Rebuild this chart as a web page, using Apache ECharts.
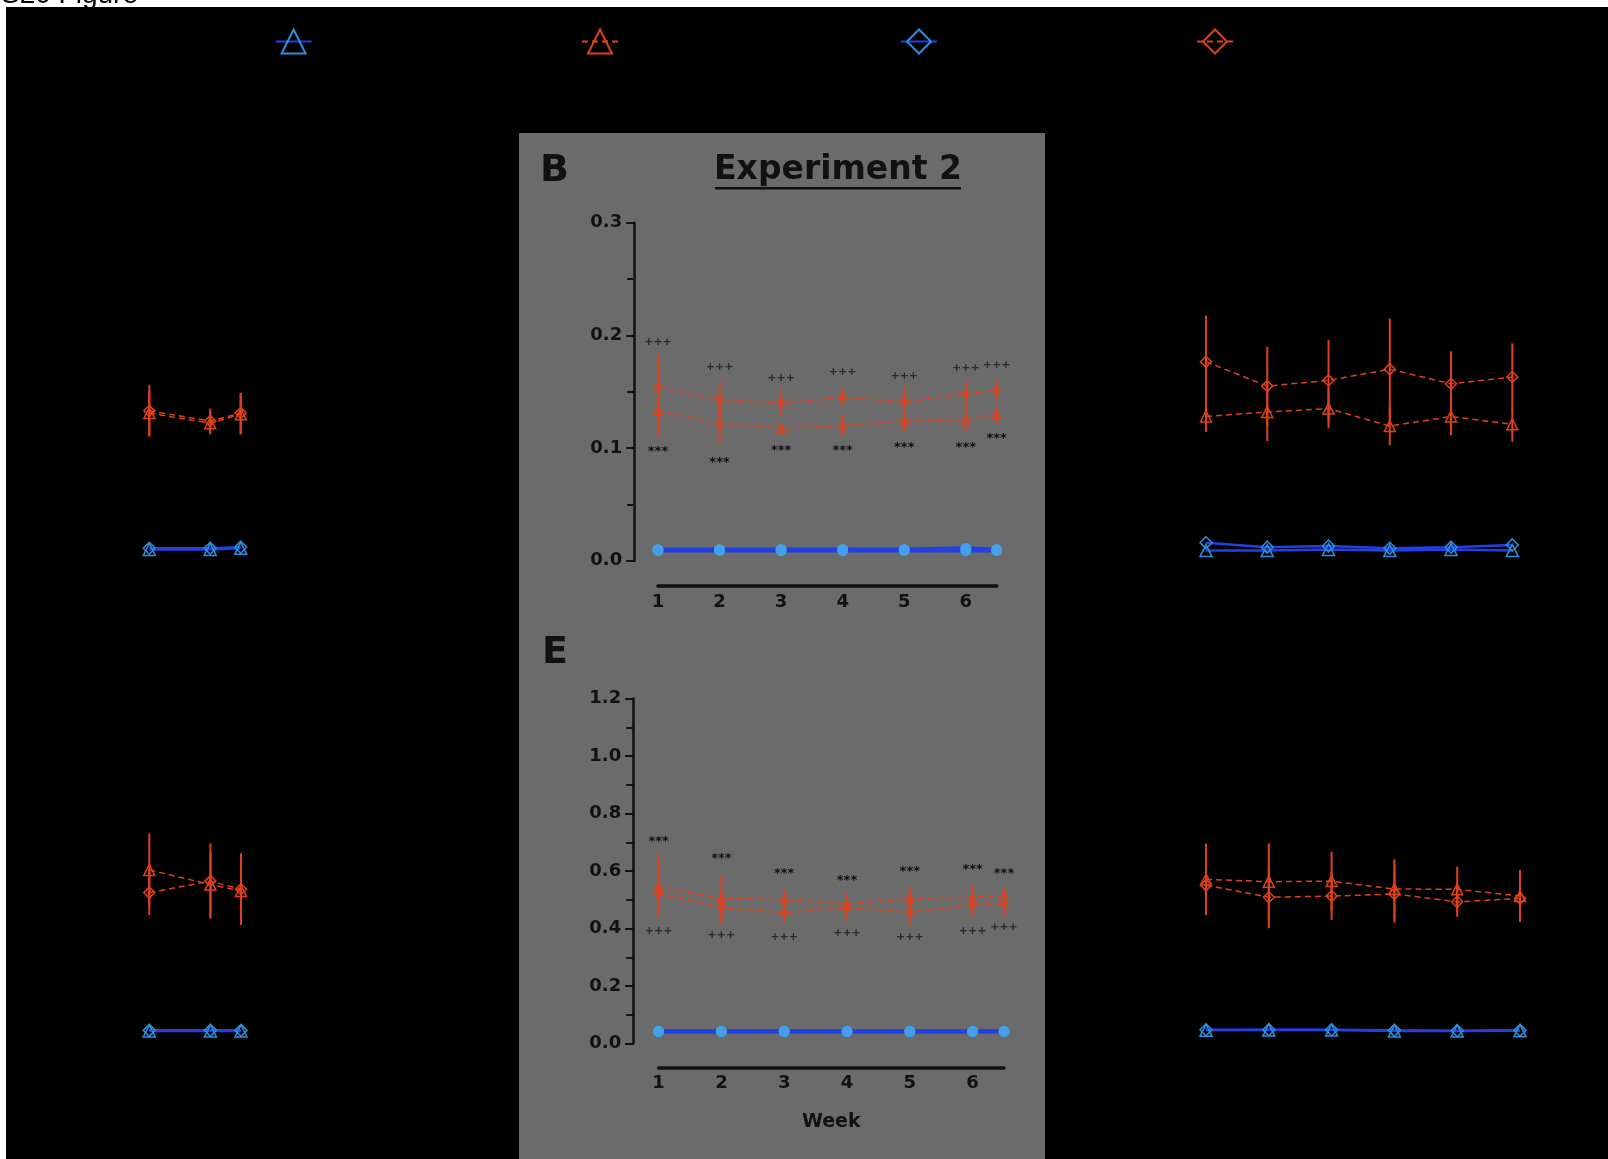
<!DOCTYPE html>
<html><head><meta charset="utf-8">
<script src="https://cdn.jsdelivr.net/npm/echarts@6/dist/echarts.min.js"></script>
<style>html,body{margin:0;padding:0;background:#fff;overflow:hidden}#c{width:1608px;height:1159px}</style>
</head><body><div id="c"></div>
<script>
// ---------- DATA ----------
const groupNames = ['Group 1', 'Group 2', 'Group 3', 'Group 4']; // blue tri, red tri, blue diamond, red diamond

// Panel A (hidden axes, top left)
const A_weeks = [1, 2, 2.5];
const A_triBlue = [0.010, 0.010, 0.011];
const A_triRed = [0.131, 0.122, 0.130];
const A_triRedErr = [0.020, 0.010, 0.018];
const A_diaBlue = [0.011, 0.011, 0.012];
const A_diaRed = [0.133, 0.124, 0.131];
const A_diaRedErr = [0.023, 0.011, 0.018];

// Panel B (Experiment 2, top)
const B_weeks = [1, 2, 3, 4, 5, 6, 6.5];
const B_triBlue = [0.009, 0.009, 0.009, 0.009, 0.009, 0.009, 0.009];
const B_diaBlue = [0.010, 0.010, 0.010, 0.010, 0.010, 0.011, 0.010];
const B_diaRed = [0.154, 0.143, 0.140, 0.145, 0.141, 0.148, 0.151];
const B_diaRedErr = [0.029, 0.016, 0.011, 0.008, 0.013, 0.011, 0.009];
const B_triRed = [0.133, 0.122, 0.1175, 0.120, 0.124, 0.125, 0.130];
const B_triRedErr = [0.023, 0.018, 0.005, 0.009, 0.010, 0.011, 0.008];
const B_plusY = [0.194, 0.1716, 0.162, 0.167, 0.164, 0.171, 0.1737];
const B_starY = [0.0997, 0.0894, 0.100, 0.100, 0.1027, 0.1027, 0.1107];
const B_yTicks = [0, 0.3, 0.1];

// Panel C (hidden axes, top right)
const C_weeks = [1, 2, 3, 4, 5, 6];
const C_triBlue = [0.009, 0.009, 0.010, 0.009, 0.010, 0.009];
const C_diaBlue = [0.016, 0.012, 0.013, 0.011, 0.012, 0.014];
const C_diaRed = [0.1766, 0.155, 0.160, 0.170, 0.157, 0.163];
const C_diaRedErr = [0.041, 0.035, 0.036, 0.045, 0.029, 0.030];
const C_triRed = [0.128, 0.132, 0.135, 0.1195, 0.128, 0.121];
const C_triRedErr = [0.0135, 0.026, 0.0175, 0.017, 0.0165, 0.0154];

// Panel D (hidden axes, bottom left)
const D_weeks = [1, 2, 2.5];
const D_triBlue = [0.044, 0.044, 0.044];
const D_diaBlue = [0.046, 0.046, 0.046];
const D_triRed = [0.604, 0.553, 0.531];
const D_triRedErr = [0.127, 0.112, 0.101];
const D_diaRed = [0.525, 0.565, 0.537];
const D_diaRedErr = [0.078, 0.131, 0.125];

// Panel E (Experiment 2, bottom)
const E_weeks = [1, 2, 3, 4, 5, 6, 6.5];
const E_triBlue = [0.042, 0.042, 0.042, 0.042, 0.042, 0.042, 0.042];
const E_diaBlue = [0.043, 0.043, 0.043, 0.043, 0.043, 0.043, 0.043];
const E_triRed = [0.545, 0.505, 0.501, 0.485, 0.505, 0.509, 0.515];
const E_triRedErr = [0.108, 0.081, 0.033, 0.036, 0.039, 0.042, 0.030];
const E_diaRed = [0.521, 0.473, 0.455, 0.473, 0.457, 0.481, 0.485];
const E_diaRedErr = [0.084, 0.054, 0.030, 0.042, 0.044, 0.038, 0.042];
const E_starY = [0.7125, 0.655, 0.601, 0.577, 0.608, 0.616, 0.601];
const E_plusY = [0.392, 0.377, 0.371, 0.3855, 0.371, 0.392, 0.4035];
const E_yTicks = [0, 1.2, 0.2];

// Panel F (hidden axes, bottom right)
const F_weeks = [1, 2, 3, 4, 5, 6];
const F_triBlue = [0.046, 0.047, 0.047, 0.044, 0.044, 0.045];
const F_diaBlue = [0.048, 0.048, 0.048, 0.046, 0.045, 0.046];
const F_triRed = [0.571, 0.563, 0.565, 0.5375, 0.5365, 0.513];
const F_triRedErr = [0.125, 0.133, 0.102, 0.1035, 0.0785, 0.0906];
const F_diaRed = [0.551, 0.509, 0.513, 0.520, 0.493, 0.5045];
const F_diaRedErr = [0.0865, 0.108, 0.083, 0.100, 0.052, 0.0725];

const weekLabels = ['1', '2', '3', '4', '5', '6'];

// ---------- STYLE ----------
const RED = '#e0401c';
const BLUE_LINE = '#2141e6';
const BLUE_MARK = '#2f8fdc';
const CBLUE_MARK = '#45a0ec';
const INK = '#111';
const FONT = '"DejaVu Sans", sans-serif';

// grids: 0 A, 1 B, 2 C, 3 D, 4 E, 5 F
const grids = [
  {left: 149.3, top: 222.7, width: 91.4, height: 338},
  {left: 658, top: 222.7, width: 338.6, height: 338},
  {left: 1206, top: 222.7, width: 306.3, height: 338},
  {left: 149.3, top: 698.5, width: 91.7, height: 345.1},
  {left: 658.6, top: 698.5, width: 345.4, height: 345.1},
  {left: 1206, top: 698.5, width: 314, height: 345.1}
];
const xRanges = [[1, 2.5], [1, 6.5], [1, 6], [1, 2.5], [1, 6.5], [1, 6]];
const yRanges = [[0, 0.3], [0, 0.3], [0, 0.3], [0, 1.2], [0, 1.2], [0, 1.2]];

const xAxes = grids.map((g, i) => {
  const vis = (i === 1 || i === 4);
  return {
    type: 'value', gridIndex: i, min: xRanges[i][0], max: xRanges[i][1], interval: 1,
    show: vis, offset: i === 1 ? 25.3 : 24, position: 'bottom',
    axisLine: {show: true, onZero: false, lineStyle: {color: INK, width: 3.5}},
    axisTick: {show: false}, splitLine: {show: false},
    axisLabel: {show: true, margin: 7, color: INK, fontFamily: FONT, fontWeight: 'bold', fontSize: 18,
      formatter: v => (Number.isInteger(v) && weekLabels.indexOf(String(v)) >= 0) ? String(v) : ''},
    name: i === 4 ? 'Week' : '', nameLocation: 'middle', nameGap: 45,
    nameTextStyle: {color: INK, fontFamily: FONT, fontWeight: 'bold', fontSize: 19}
  };
});
const yAxes = grids.map((g, i) => {
  const vis = (i === 1 || i === 4);
  const t = i < 3 ? B_yTicks : E_yTicks;
  return {
    type: 'value', gridIndex: i, min: yRanges[i][0], max: yRanges[i][1], interval: t[2],
    show: vis, offset: i === 1 ? 23.8 : 25.4,
    axisLine: {show: true, onZero: false, lineStyle: {color: INK, width: 2.5}},
    axisTick: {show: true, length: 8, lineStyle: {color: INK, width: 2}},
    minorTick: {show: true, splitNumber: 2, length: 7, lineStyle: {color: INK, width: 2}},
    splitLine: {show: false},
    axisLabel: {margin: 12, color: INK, fontFamily: FONT, fontWeight: 'bold', fontSize: 18,
      formatter: v => v.toFixed(1)}
  };
});

function lineS(name, gi, weeks, vals, symbol, kind) {
  const center = (gi === 1 || gi === 4);
  const isRed = kind === 'red';
  const s = {
    name, type: 'line', xAxisIndex: gi, yAxisIndex: gi,
    data: weeks.map((w, k) => [w, vals[k]]), symbol, z: 4, silent: true
  };
  if (isRed) {
    s.symbolSize = center ? 8 : 11;
    s.lineStyle = {color: RED, width: 1.5, type: [6, 4]};
    s.itemStyle = {color: 'rgba(0,0,0,0)', borderColor: RED, borderWidth: 1.5};
  } else if (center) {
    s.symbol = 'circle';
    s.symbolSize = 11;
    s.lineStyle = {color: BLUE_LINE, width: 4};
    s.itemStyle = {color: CBLUE_MARK, borderWidth: 0};
  } else {
    s.symbolSize = 12;
    s.lineStyle = {color: BLUE_LINE, width: 2.5};
    s.itemStyle = {color: 'rgba(0,0,0,0)', borderColor: BLUE_MARK, borderWidth: 1.5};
  }
  return s;
}
function errS(gi, weeks, means, errs) {
  return {
    type: 'custom', xAxisIndex: gi, yAxisIndex: gi, silent: true, z: 3,
    data: weeks.map((w, k) => [w, means[k] - errs[k], means[k] + errs[k]]),
    renderItem: (p, api) => {
      const a = api.coord([api.value(0), api.value(1)]);
      const b = api.coord([api.value(0), api.value(2)]);
      return {type: 'line', shape: {x1: a[0], y1: a[1], x2: b[0], y2: b[1]},
        style: {stroke: RED, lineWidth: 2}};
    }
  };
}
function textS(gi, weeks, ys, txt, font, color, dy) {
  return {
    type: 'custom', xAxisIndex: gi, yAxisIndex: gi, silent: true, z: 6,
    data: weeks.map((w, k) => [w, ys[k]]),
    renderItem: (p, api) => {
      const c = api.coord([api.value(0), api.value(1)]);
      return {type: 'text', x: c[0], y: c[1] + dy,
        style: {text: txt, font, fill: color, align: 'center', verticalAlign: 'middle'}};
    }
  };
}
function panel(gi, weeks, tb, tr, tre, db, dr, dre) {
  return [
    errS(gi, weeks, tr, tre), errS(gi, weeks, dr, dre),
    lineS(groupNames[0], gi, weeks, tb, 'triangle', 'blue'),
    lineS(groupNames[1], gi, weeks, tr, 'triangle', 'red'),
    lineS(groupNames[2], gi, weeks, db, 'diamond', 'blue'),
    lineS(groupNames[3], gi, weeks, dr, 'diamond', 'red')
  ];
}

const series = [].concat(
  panel(0, A_weeks, A_triBlue, A_triRed, A_triRedErr, A_diaBlue, A_diaRed, A_diaRedErr),
  panel(1, B_weeks, B_triBlue, B_triRed, B_triRedErr, B_diaBlue, B_diaRed, B_diaRedErr),
  panel(2, C_weeks, C_triBlue, C_triRed, C_triRedErr, C_diaBlue, C_diaRed, C_diaRedErr),
  panel(3, D_weeks, D_triBlue, D_triRed, D_triRedErr, D_diaBlue, D_diaRed, D_diaRedErr),
  panel(4, E_weeks, E_triBlue, E_triRed, E_triRedErr, E_diaBlue, E_diaRed, E_diaRedErr),
  panel(5, F_weeks, F_triBlue, F_triRed, F_triRedErr, F_diaBlue, F_diaRed, F_diaRedErr),
  [
    textS(1, B_weeks, B_plusY, '+++', 'bold 11px "DejaVu Sans"', '#2a2a2a', 0),
    textS(1, B_weeks, B_starY, '***', 'bold 13px "DejaVu Sans"', INK, 3),
    textS(4, E_weeks, E_starY, '***', 'bold 13px "DejaVu Sans"', INK, 3),
    textS(4, E_weeks, E_plusY, '+++', 'bold 11px "DejaVu Sans"', '#2a2a2a', 0)
  ]
);

const legendLefts = [274.6, 581, 900, 1196];
const legends = groupNames.map((n, i) => ({
  data: [n], left: legendLefts[i], top: 28.5, padding: 0, orient: 'horizontal',
  itemWidth: 36, itemHeight: 30, selectedMode: false,
  textStyle: {color: '#000', fontFamily: FONT, fontSize: 20, fontWeight: 'bold'}
}));

const chart = echarts.init(document.getElementById('c'), null, {renderer: 'canvas', width: 1608, height: 1159});
chart.setOption({
  animation: false,
  backgroundColor: '#fff',
  grid: grids,
  xAxis: xAxes,
  yAxis: yAxes,
  legend: legends,
  series,
  graphic: {elements: [
    {type: 'text', x: 1, y: 9, z: -20, style: {text: 'S20 Figure', font: '28px "Liberation Sans", Arial', fill: '#000', verticalAlign: 'bottom'}},
    {type: 'rect', z: -10, shape: {x: 6, y: 7, width: 1602, height: 1152}, style: {fill: '#000'}},
    {type: 'rect', z: -9, shape: {x: 519, y: 133, width: 526, height: 1026}, style: {fill: '#6b6b6b'}},
    {type: 'text', x: 838, y: 170, z: 10, style: {text: 'Experiment 2', font: 'bold 33px "DejaVu Sans"', fill: INK, align: 'center', verticalAlign: 'middle'}},
    {type: 'rect', z: 10, shape: {x: 715, y: 187, width: 246, height: 2.5}, style: {fill: INK}},
    {type: 'text', x: 540, y: 171, z: 10, style: {text: 'B', font: 'bold 38px "DejaVu Sans"', fill: INK, verticalAlign: 'middle'}},
    {type: 'text', x: 542, y: 653, z: 10, style: {text: 'E', font: 'bold 38px "DejaVu Sans"', fill: INK, verticalAlign: 'middle'}}
  ]}
});
</script></body></html>
